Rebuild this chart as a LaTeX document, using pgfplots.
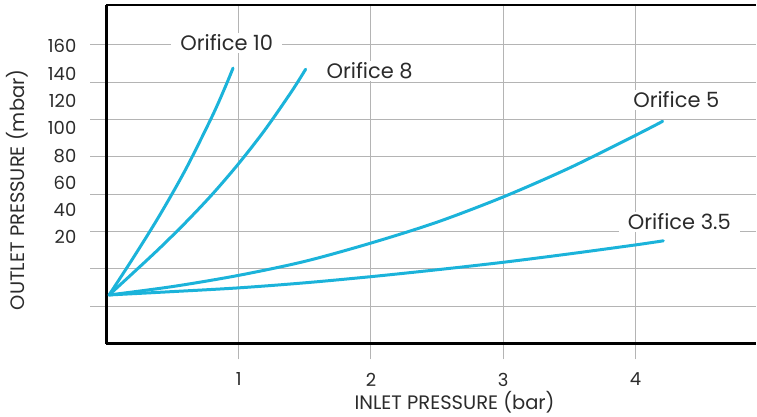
\documentclass[border=0pt]{standalone}
\usepackage{fontspec}
\setmainfont{Poppins}
\usepackage{pgfplots}
\pgfplotsset{compat=1.18}
\definecolor{curve}{HTML}{1BB3DA}
\definecolor{gridc}{HTML}{B4B4B4}
\definecolor{txt}{HTML}{2B2B2B}
\newcommand\tickfont{\fontsize{18bp}{21bp}\selectfont}
\newcommand\lblfont{\fontsize{19.5bp}{23bp}\selectfont}
\newcommand\nodefont{\fontsize{21bp}{24bp}\selectfont}

\begin{document}
\begin{tikzpicture}
\begin{axis}[
    scale only axis,
    width=650.4bp, height=339bp,
    xmin=0, xmax=4.91, ymin=0, ymax=181.3,
    axis x line=box, axis y line*=left,
    axis line style={-, black, line width=2.2bp},
    xtick={1,2,3,4}, xtick pos=bottom,
    ytick={20,40,...,160}, yticklabels={}, ytick pos=left,
    grid=major,
    grid style={gridc, line width=1bp},
    tick align=outside,
    major tick length=16bp,
    tick style={gridc, line width=1bp},
    extra y ticks={159.4,144.4,130.1,115.7,100.5,85.9,71.7,57.1},
    extra y tick labels={160,140,120,100,80,60,40,20},
    extra y tick style={grid=none, major tick length=0pt},
    /pgf/number format/assume math mode=true,
    tick label style={font=\tickfont, text=txt},
    yticklabel style={anchor=east, inner sep=0pt, xshift=-30bp},
    xticklabel style={anchor=center, inner sep=0pt, yshift=-20bp},
    every axis y label/.style={at={(axis description cs:-0.1368,0.454)}, rotate=90, anchor=center, font=\lblfont, text=txt},
    every axis x label/.style={at={(axis description cs:0.536,0)}, anchor=center, yshift=-59bp, font=\lblfont, text=txt},
    xlabel={INLET PRESSURE (bar)},
    ylabel={OUTLET PRESSURE (mbar)},
    orifice/.style={curve, line width=3bp, line cap=round, smooth, no markers},
    clip=false,
]
% Orifice 10
\addplot[orifice] coordinates {(0.02,26) (0.2,45.6) (0.4,68.4) (0.6,93.4) (0.8,121.8) (0.9,137.7) (0.957,147.5)};
% Orifice 8
\addplot[orifice] coordinates {(0.02,26) (0.2,37.7) (0.4,50.9) (0.6,64.9) (0.8,79.9) (1.0,96.4) (1.2,114.6) (1.4,135) (1.506,146.9)};
% Orifice 5
\addplot[orifice] coordinates {(0.02,26) (0.5,30.5) (1,36.5) (1.5,44) (2,53.8) (2.5,65) (3,78.5) (3.5,94) (4,111.5) (4.205,119)};
% Orifice 3.5
\addplot[orifice] coordinates {(0.02,26) (0.5,27.8) (1,29.8) (1.5,32.5) (2,35.8) (2.5,39.5) (3,43.5) (3.5,48) (4,52.8) (4.21,55)};

\tikzset{lbl/.style={font=\nodefont, text=txt, fill=white, inner xsep=9bp, inner ysep=2bp}}
\node[lbl] at (axis cs:0.909,161) {Orifice 10};
\node[lbl] at (axis cs:1.99,146) {Orifice 8};
\node[lbl] at (axis cs:4.308,130.5) {Orifice 5};
\node[lbl] at (axis cs:4.331,65.2) {Orifice 3.5};

\path (rel axis cs:0,0) ++(-106.6bp,-73bp);
\path (rel axis cs:0,1) ++(0,5bp);
\end{axis}
\end{tikzpicture}
\end{document}
